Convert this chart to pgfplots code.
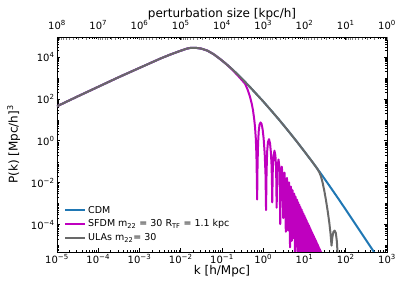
\documentclass[border=0pt]{standalone}
\usepackage{fontspec}
\setmainfont{DejaVu Sans}
\usepackage{pgfplots}
\pgfplotsset{compat=1.18}
\definecolor{cdm}{HTML}{1F77B4}
\definecolor{sfdm}{HTML}{BF00BF}
\definecolor{ulas}{HTML}{696969}
\newcommand{\tp}[1]{10\textsuperscript{#1}}
\begin{document}
\begin{tikzpicture}
\useasboundingbox (-57pt,-39pt) rectangle (350pt,252pt);
\begin{axis}[
  scale only axis, width=330pt, height=215pt,
  xmode=log, ymode=log,
  xmin=1e-5, xmax=1e3, ymin=5e-6, ymax=9e4,
  xtick={1e-5,1e-4,1e-3,1e-2,1e-1,1,1e1,1e2,1e3},
  xticklabels={\tp{−5},\tp{−4},\tp{−3},\tp{−2},\tp{−1},\tp{0},\tp{1},\tp{2},\tp{3}},
  ytick={1e-4,1e-2,1,1e2,1e4},
  yticklabels={\tp{−4},\tp{−2},\tp{0},\tp{2},\tp{4}},
  minor xtick={2e-5,3e-5,4e-5,5e-5,6e-5,7e-5,8e-5,9e-5,
    2e-4,3e-4,4e-4,5e-4,6e-4,7e-4,8e-4,9e-4,
    2e-3,3e-3,4e-3,5e-3,6e-3,7e-3,8e-3,9e-3,
    2e-2,3e-2,4e-2,5e-2,6e-2,7e-2,8e-2,9e-2,
    0.2,0.3,0.4,0.5,0.6,0.7,0.8,0.9,
    2,3,4,5,6,7,8,9,
    20,30,40,50,60,70,80,90,
    200,300,400,500,600,700,800,900},
  minor ytick={5e-6,6e-6,7e-6,8e-6,9e-6,1e-5,
    2e-5,3e-5,4e-5,5e-5,6e-5,7e-5,8e-5,9e-5,
    2e-4,3e-4,4e-4,5e-4,6e-4,7e-4,8e-4,9e-4,1e-3,
    2e-3,3e-3,4e-3,5e-3,6e-3,7e-3,8e-3,9e-3,
    2e-2,3e-2,4e-2,5e-2,6e-2,7e-2,8e-2,9e-2,0.1,
    0.2,0.3,0.4,0.5,0.6,0.7,0.8,0.9,
    2,3,4,5,6,7,8,9,10,
    20,30,40,50,60,70,80,90,
    200,300,400,500,600,700,800,900,1000,
    2000,3000,4000,5000,6000,7000,8000,9000,
    2e4,3e4,4e4,5e4,6e4,7e4,8e4,9e4},
  tick align=inside, xtick pos=both, ytick pos=both,
  xticklabel pos=lower, yticklabel pos=left,
  major tick length=3.5pt, minor tick length=2pt,
  every tick/.style={black, line width=0.8pt},
  every minor tick/.style={black, line width=0.6pt},
  axis line style={line width=0.8pt},
  tick label style={font=\fontsize{10}{12}\selectfont},
  xticklabel style={yshift=1pt},
  yticklabel style={xshift=1pt},
  xlabel={k [h/Mpc]}, ylabel={P(k) [Mpc/h]\textsuperscript{3}},
  xlabel style={yshift=5pt},
  ylabel shift=4pt,
  label style={font=\fontsize{12}{14}\selectfont},
  legend style={draw=none, fill=none, at={(0,0)}, anchor=south west,
    xshift=4pt, yshift=6pt, font=\fontsize{9.5}{11}\selectfont, row sep=1pt},
  legend image code/.code={\draw[#1] (0pt,0pt) -- (20pt,0pt);},
  legend cell align=left,
]
\addplot[cdm, line width=2pt, line join=round] coordinates {
(1e-5,44.7)(3.162e-5,131.8)(1e-4,380)(3.162e-4,1096)(1e-3,3020)(3.162e-3,8318)
(5.623e-3,1.318e4)(1e-2,1.995e4)(1.413e-2,2.512e4)(1.778e-2,2.754e4)(2.239e-2,2.754e4)
(3.162e-2,2.512e4)(4.467e-2,1.995e4)(6.310e-2,1.349e4)(8.913e-2,8128)(0.1259,4677)
(0.1778,2570)(0.2512,1349)(0.3548,676)(0.5012,331)(0.7079,158.5)(1,75.9)
(1.585,26.9)(2.512,9.33)(3.981,3.09)(6.310,1.0)(10,0.309)(15.85,0.0933)
(25.12,0.0269)(39.81,7.41e-3)(63.10,2.0e-3)(100,5.25e-4)(158.5,1.349e-4)
(251.2,3.47e-5)(398.1,8.91e-6)(631,2.24e-6)(1000,5.62e-7)
};
\addlegendentry{CDM}
\addplot[sfdm, line width=2pt, line join=round] coordinates {
(1e-5,44.7)(3.162e-5,131.8)(1e-4,380)(3.162e-4,1096)(1e-3,3020)(3.162e-3,8318)
(5.623e-3,1.318e4)(1e-2,1.995e4)(1.413e-2,2.512e4)(1.778e-2,2.754e4)(2.239e-2,2.754e4)
(3.162e-2,2.512e4)(4.467e-2,1.995e4)(6.310e-2,1.349e4)(8.913e-2,8128)(0.1259,4677)
(0.1585,3090)(0.1995,1950)(0.2512,1202)(0.3162,724)(0.3631,525)(0.4169,282)
(0.4786,125.9)(0.5248,60.3)(0.5623,30.2)(0.6026,11.2)(0.6310,4.68)(0.6607,1.26)
(0.6839,0.2)(0.6998,0.01585)(0.7112,1.585e-3)(0.7278,0.0794)(0.7499,0.794)
(0.7762,2.82)(0.8128,6.03)(0.8610,7.59)(0.9120,6.31)(0.9661,3.55)(1.0233,1.259)
(1.0839,0.251)(1.1350,0.0251)(1.1695,5.01e-4)(1.2023,0.0316)(1.2445,0.316)
(1.3032,0.891)(1.3804,1.202)(1.4622,0.759)(1.5311,0.282)(1.5849,0.0794)
(1.6218,0.01585)(1.6520,1.175e-3)(1.7061,0.0501)(1.7783,0.1995)(1.8707,0.339)
(1.9724,0.1995)(2.0512,0.0501)(2.1135,6.46e-4)(2.1878,0.0398)(2.3442,0.129)
(2.4831,0.0501)(2.5823,1.07e-4)(2.6915,0.01995)(2.8184,0.0589)(2.9512,0.01995)
(3.0549,2.09e-4)
(3.29,0.0306)(3.525,4.6e-5)(3.76,0.01726)(3.995,5.3e-5)(4.23,0.01045)(4.465,8.3e-6)
(4.70,6.65e-3)(4.935,1.7e-5)(5.17,4.42e-3)(5.405,2.3e-5)(5.64,3.05e-3)(5.875,4.1e-6)
(6.11,2.16e-3)(6.345,9.3e-6)(6.58,1.57e-3)(6.815,3.4e-6)(7.05,1.17e-3)(7.285,8.1e-6)
(7.52,8.9e-4)(7.755,1e-6)(7.99,6.86e-4)(8.225,3.8e-6)(8.46,5.37e-4)(8.695,1.9e-6)
(8.93,4.26e-4)(9.165,3e-7)(9.40,3.42e-4)(9.635,3.1e-6)(9.87,2.78e-4)(10.105,1e-6)
(10.34,2.28e-4)(10.575,1e-6)(10.81,1.88e-4)(11.045,1.6e-6)(11.28,1.57e-4)(11.515,6e-7)
(11.75,1.32e-4)(11.985,1e-6)(12.22,1.11e-4)(12.455,1e-6)(12.69,9.46e-5)(12.925,1e-6)
(13.16,8.11e-5)(13.395,1e-6)(13.63,6.97e-5)(13.865,1e-6)(14.10,6.04e-5)(14.335,1e-6)
(14.57,5.24e-5)(14.805,1e-6)(15.04,4.57e-5)(15.275,1e-6)(15.51,4.01e-5)(15.745,1e-6)
(15.98,3.53e-5)(16.215,1e-6)(16.45,3.12e-5)(16.685,1e-6)(16.92,2.77e-5)(17.155,1e-6)
(17.39,2.46e-5)(17.625,1e-6)(17.86,2.19e-5)(18.095,1e-6)(18.33,1.96e-5)(18.565,1e-6)
(18.80,1.76e-5)(19.035,1e-6)(19.27,1.585e-5)(19.505,1e-6)(19.74,1.43e-5)(19.975,1e-6)
(20.21,1.29e-5)(20.445,1e-6)(20.68,1.17e-5)(20.915,1e-6)(21.15,1.06e-5)(21.385,1e-6)
(21.62,9.7e-6)(21.855,1e-6)(22.09,8.8e-6)(22.325,1e-6)(22.56,8.07e-6)(22.795,1e-6)
(23.03,7.39e-6)(23.265,1e-6)(23.50,6.78e-6)(23.735,1e-6)(23.97,6.22e-6)(24.205,1e-6)
(24.44,5.73e-6)(24.675,1e-6)(24.91,5.28e-6)(25.145,1e-6)
};
\addlegendentry{SFDM m\textsubscript{22} = 30 R\textsubscript{TF} = 1.1 kpc}
\addplot[ulas, line width=2pt, line join=round] coordinates {
(1e-5,44.7)(3.162e-5,131.8)(1e-4,380)(3.162e-4,1096)(1e-3,3020)(3.162e-3,8318)
(5.623e-3,1.318e4)(1e-2,1.995e4)(1.413e-2,2.512e4)(1.778e-2,2.754e4)(2.239e-2,2.754e4)
(3.162e-2,2.512e4)(4.467e-2,1.995e4)(6.310e-2,1.349e4)(8.913e-2,8128)(0.1259,4677)
(0.1778,2570)(0.2512,1349)(0.3548,676)(0.5012,331)(0.7079,158.5)(1,75.9)
(1.585,26.9)(2.512,9.33)(3.981,3.09)(6.310,1.0)(10,0.309)(15.85,0.0933)
(19.95,0.0501)(22.91,0.0316)(25.12,0.0200)(27.54,0.01)(30.20,4.17e-3)(33.11,1.51e-3)
(36.31,4.79e-4)(39.81,1.32e-4)(42.66,3.98e-5)(45.19,1e-5)(47.32,2.51e-5)(50.12,4.47e-5)
(53.70,5.25e-5)(57.54,3.98e-5)(60.95,1.585e-5)(64.57,2.51e-6)(69.18,1e-7)
};
\addlegendentry{ULAs m\textsubscript{22}= 30}
\end{axis}
\begin{axis}[
  scale only axis, width=330pt, height=215pt,
  xmode=log, xmin=1, xmax=1e8, x dir=reverse,
  ymin=0, ymax=1,
  axis x line*=top, hide y axis,
  axis line style={line width=0.8pt},
  xtick={1,10,100,1e3,1e4,1e5,1e6,1e7,1e8},
  xticklabels={\tp{0},\tp{1},\tp{2},\tp{3},\tp{4},\tp{5},\tp{6},\tp{7},\tp{8}},
  minor xtick={}, major tick length=0pt,
  tick label style={font=\fontsize{10}{12}\selectfont},
  xticklabel style={yshift=4pt},
  xlabel={perturbation size [kpc/h]},
  xlabel style={yshift=-6pt},
  label style={font=\fontsize{12}{14}\selectfont},
]
\addplot[draw=none] coordinates {(1,0.5)(1e8,0.5)};
\end{axis}
\end{tikzpicture}
\end{document}
